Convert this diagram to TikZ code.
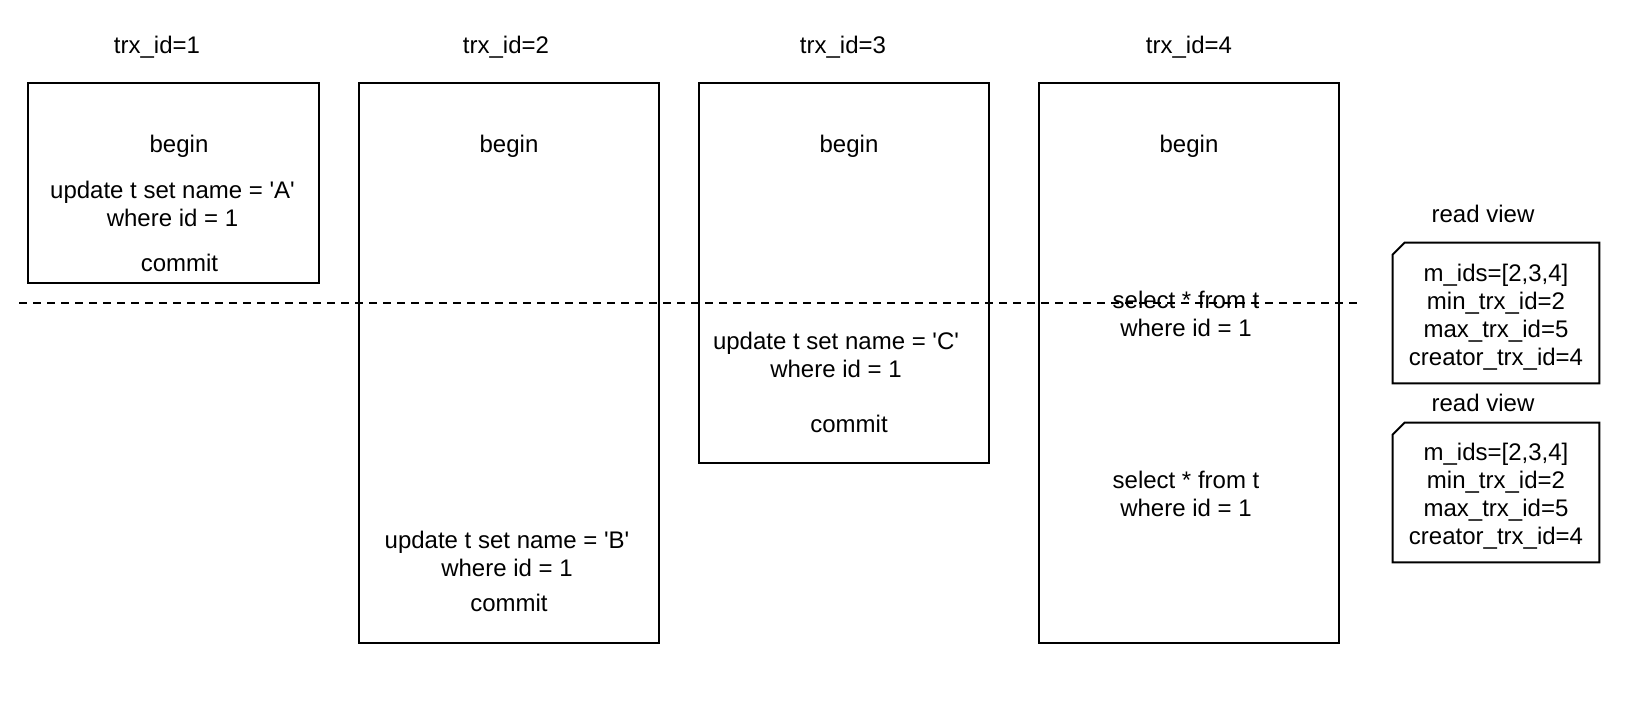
\documentclass[tikz,border=0pt]{standalone}
\usepackage{fontspec}
\setmainfont{Liberation Sans}[Ligatures=TeXOff]
\usepackage{tikz}
\usetikzlibrary{positioning}
\tikzset{
  trxbox/.style={draw, line width=1pt, minimum width=150pt, minimum height=280pt, inner sep=0pt},
  viewbox/.style={minimum width=103pt, minimum height=70pt, inner sep=0pt},
  sqltext/.style={align=center, inner sep=0pt},
  splitline/.style={dashed, dash pattern=on 4pt off 3pt, line width=0.6pt},
}

\begin{document}
\begin{tikzpicture}[x=0.5pt, y=-0.5pt, font=\fontsize{12}{14}\selectfont]
  \useasboundingbox (0,0) rectangle (1628,706);

  % transactions
  \node[trxbox, minimum width=145.5pt, minimum height=100pt] (t1) at (173.5,183) {};
  \node[trxbox] (t2) at (509,363) {};
  \node[trxbox, minimum width=145pt, minimum height=190pt] (t3) at (844,273) {};
  \node[trxbox] (t4) at (1189,363) {};

  \node[sqltext] (id1) at (157,47) {trx\_id=1};
  \node[sqltext] (id2) at (506,47) {trx\_id=2};
  \node[sqltext] (id3) at (843,47) {trx\_id=3};
  \node[sqltext] (id4) at (1189,47) {trx\_id=4};

  \node[sqltext] (b1) at (179,146) {begin};
  \node[sqltext] (u1) at (172.5,204) {update t set name = 'A'\\where id = 1};
  \node[sqltext] (c1) at (179.5,263) {commit};

  \node[sqltext] (b2) at (509,146) {begin};
  \node[sqltext] (u2) at (507,554) {update t set name = 'B'\\where id = 1};
  \node[sqltext] (c2) at (509,603) {commit};

  \node[sqltext] (b3) at (849,146) {begin};
  \node[sqltext] (u3) at (836,355) {update t set name = 'C'\\where id = 1};
  \node[sqltext] (c3) at (849,424) {commit};

  \node[sqltext] (b4) at (1189,146) {begin};
  \node[sqltext] (s1) at (1186,314) {select * from t\\where id = 1};
  \node[sqltext] (s2) at (1186,494) {select * from t\\where id = 1};

  % read views
  \node[viewbox] (rv1) at (1496,313) {};
  \node[viewbox, minimum height=69.5pt] (rv2) at (1496,492.5) {};
  \node[sqltext] (rt1) at (1496,317) {m\_ids=[2,3,4]\\min\_trx\_id=2\\max\_trx\_id=5\\creator\_trx\_id=4};
  \node[sqltext] (rt2) at (1496,496.5) {m\_ids=[2,3,4]\\min\_trx\_id=2\\max\_trx\_id=5\\creator\_trx\_id=4};
  \node[sqltext] (rl1) at (1483,214) {read view};
  \node[sqltext] (rl2) at (1483,403) {read view};

  \foreach \v in {rv1,rv2}
    \draw[line width=1pt] (\v.south west) -- ([yshift=-6pt]\v.north west)
      -- ([xshift=6pt]\v.north west) -- (\v.north east) -- (\v.south east) -- cycle;

  \coordinate (cutl) at (19,303);
  \coordinate (cutr) at (1358,303);
  \draw[splitline] (cutl) -- (cutr);
\end{tikzpicture}
\end{document}
